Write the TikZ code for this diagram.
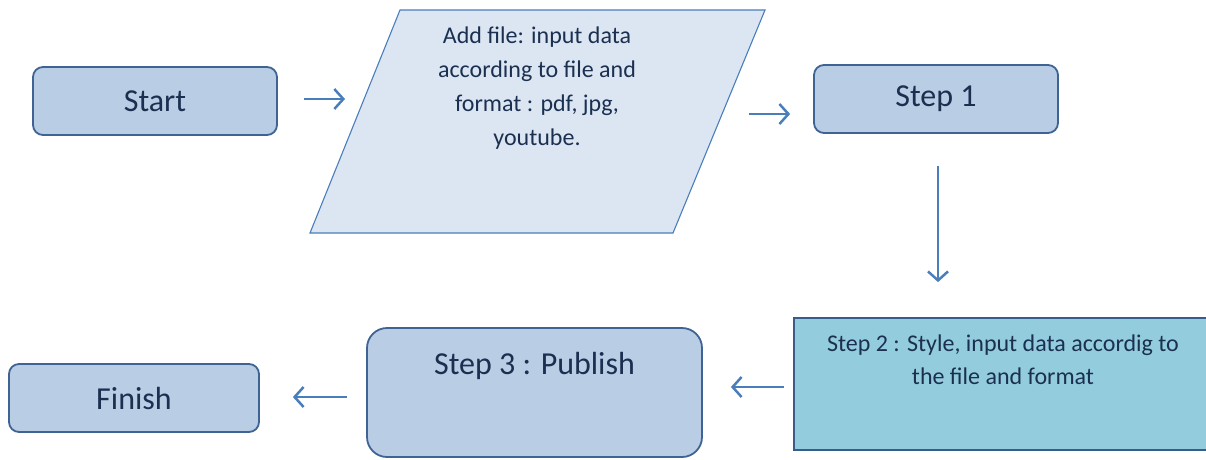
\documentclass[tikz,border=0pt]{standalone}
\usepackage{fontspec}
\setmainfont{Carlito}
\usetikzlibrary{arrows.meta}
\definecolor{boxfill}{HTML}{B9CDE5}
\definecolor{boxline}{HTML}{3F6494}
\definecolor{parafill}{HTML}{DCE6F2}
\definecolor{paraline}{HTML}{4A7EBB}
\definecolor{aquafill}{HTML}{93CDDD}
\definecolor{aqualine}{HTML}{385D8A}
\definecolor{txt}{HTML}{1B3050}
\definecolor{arrowblue}{HTML}{4A7EBB}
\begin{document}
\begin{tikzpicture}[x=1pt,y=-1pt,
  rbox/.style={draw=boxline, fill=boxfill, line width=1.8pt, rounded corners=10pt,
     text=txt, font=\fontsize{32}{38}\selectfont, inner sep=0pt},
  parastyle/.style={draw=paraline, fill=parafill, line width=1.1pt},
  aqua/.style={draw=aqualine, fill=aquafill, line width=1.8pt, inner sep=0pt},
  smalltxt/.style={text=txt, font=\fontsize{24}{34}\selectfont, align=center, inner sep=0pt},
  bigtxt/.style={text=txt, font=\fontsize{32}{38}\selectfont, inner sep=0pt},
  arr/.style={draw=arrowblue, line width=2.5pt, -{Straight Barb[length=9pt,width=20pt]}}
]
\useasboundingbox (0,0) rectangle (1206,459);

\node[rbox, minimum width=244pt, minimum height=68pt] (start) at (155,101) {Start};
% parallelogram
\coordinate (pTL) at (400,10);
\coordinate (pTR) at (765,10);
\coordinate (pBR) at (673,233);
\coordinate (pBL) at (310,233);
\draw[parastyle] (pTL) -- (pTR) -- (pBR) -- (pBL) -- cycle;
\coordinate (paraW) at (364,99);
\coordinate (paraE) at (718,114);
\node[smalltxt, anchor=north] (paratext) at (537,27) {Add file: input data\\according to file and\\format : pdf, jpg,\\youtube.};
\node[rbox, minimum width=244pt, minimum height=68pt] (step1) at (936,99) {Step 1};
\node[aqua, minimum width=422pt, minimum height=132pt] (step2) at (1005,384) {};
\node[smalltxt, font=\fontsize{24}{33}\selectfont, anchor=north] (step2text) at (1003,335) {Step 2 : Style, input data accordig to\\the file and format};
\node[rbox, rounded corners=20pt, minimum width=335pt, minimum height=129pt] (step3) at (534.5,392.5) {};
\node[bigtxt, anchor=base] (step3text) at (534.5,374) {Step 3 : Publish};
\node[rbox, minimum width=250pt, minimum height=68pt] (finish) at (134,398) {Finish};

\draw[arr, shorten <=26pt, shorten >=19pt] ([yshift=2pt]start.east) -- (paraW);
\draw[arr, shorten <=31pt, shorten >=23pt] (paraE) -- (paraE -| step1.west);
\draw[arr, shorten <=32pt, shorten >=35pt] ([xshift=2pt]step1.south) -- ([xshift=2pt]step1.south |- step2.north);
\draw[arr, shorten <=9pt, shorten >=28pt] ([yshift=-3pt]step2.west) -- ([yshift=-3pt]step2.west -| step3.east);
\draw[arr, shorten <=19pt, shorten >=33pt] ([yshift=-4.5pt]step3.west) -- ([yshift=-4.5pt]step3.west -| finish.east);
\end{tikzpicture}
\end{document}
